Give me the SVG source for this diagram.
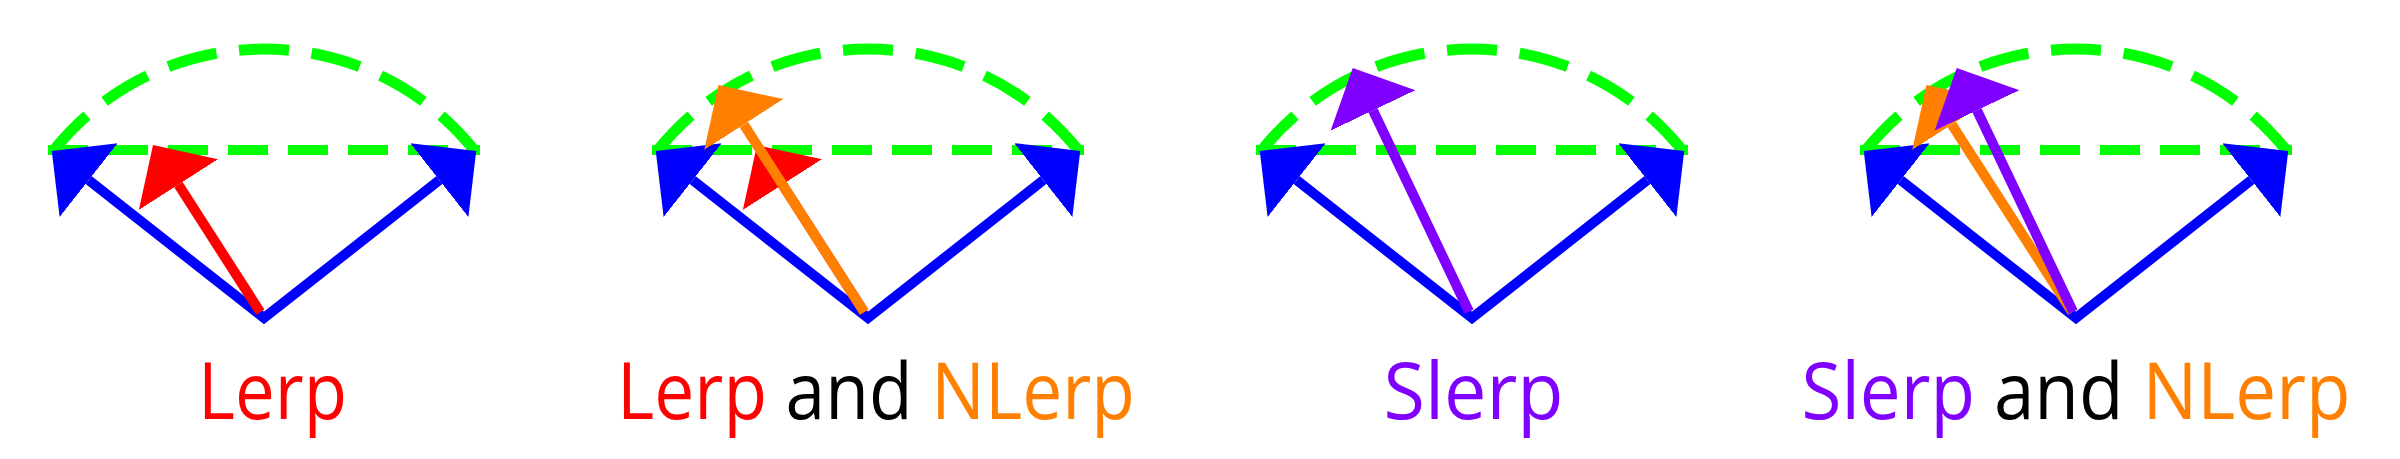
<svg xmlns="http://www.w3.org/2000/svg" xmlns:xlink="http://www.w3.org/1999/xlink" width="2400" height="459" viewBox="0 0 2400 459">
<defs>
<style>
.arc{fill:none;stroke:#00ff00;stroke-width:11;stroke-dasharray:50 22.7}
.chord{fill:none;stroke:#00ff00;stroke-width:10;stroke-dasharray:40 20}
.vec{fill:none;stroke-width:10;stroke-linejoin:miter;stroke-miterlimit:10}
.b{stroke:#0000ff}
.r{stroke:#ff0000}
.o{stroke:#ff8000}
.p{stroke:#8000ff}
.lbl{font-family:"Open Sans","Noto Sans",sans-serif;font-size:78px;text-anchor:middle;fill:#000000}
</style>
<marker id="ahB" viewBox="0 -48 48 96" markerWidth="48" markerHeight="96" refX="0" refY="0" orient="auto-start-reverse" markerUnits="userSpaceOnUse"><path d="M0,-47 L47,0 L0,47 z" fill="#0000ff"/></marker>
<marker id="ahR" viewBox="0 -48 48 96" markerWidth="48" markerHeight="96" refX="0" refY="0" orient="auto" markerUnits="userSpaceOnUse"><path d="M0,-47 L47,0 L0,47 z" fill="#ff0000"/></marker>
<marker id="ahO" viewBox="0 -48 48 96" markerWidth="48" markerHeight="96" refX="0" refY="0" orient="auto" markerUnits="userSpaceOnUse"><path d="M0,-47 L47,0 L0,47 z" fill="#ff8000"/></marker>
<marker id="ahP" viewBox="0 -48 48 96" markerWidth="48" markerHeight="96" refX="0" refY="0" orient="auto" markerUnits="userSpaceOnUse"><path d="M0,-47 L47,0 L0,47 z" fill="#8000ff"/></marker>
<g id="base">
<path class="arc" d="M-211.4,-166.3 A269,269 0 0 1 211.4,-166.3"/>
<path class="chord" d="M-216,-168 L216,-168"/>
<path class="vec b" d="M-175.3,-137.9 L0,0 L175.3,-137.9" marker-start="url(#ahB)" marker-end="url(#ahB)"/>
</g>
</defs>

<g id="panel-lerp" transform="translate(264,318)">
<use href="#base" xlink:href="#base"/>
<g id="connectors-lerp">
<path class="vec r" d="M-3.8,-5.9 L-85.6,-133.4" marker-end="url(#ahR)"/>
</g>
</g>

<g id="panel-lerp-nlerp" transform="translate(868,318)">
<use href="#base" xlink:href="#base"/>
<g id="connectors-lerp-nlerp">
<path class="vec r" d="M-3.8,-5.9 L-85.6,-133.4" marker-end="url(#ahR)"/>
<path class="vec o" d="M-3.8,-5.9 L-124.2,-193.5" marker-end="url(#ahO)"/>
</g>
</g>

<g id="panel-slerp" transform="translate(1472,318)">
<use href="#base" xlink:href="#base"/>
<g id="connectors-slerp">
<path class="vec p" d="M-3.0,-6.3 L-99.0,-207.6" marker-end="url(#ahP)"/>
</g>
</g>

<g id="panel-slerp-nlerp" transform="translate(2076,318)">
<use href="#base" xlink:href="#base"/>
<g id="connectors-slerp-nlerp">
<path class="vec o" d="M-3.8,-5.9 L-124.2,-193.5" marker-end="url(#ahO)"/>
<path class="vec p" d="M-3.0,-6.3 L-99.0,-207.6" marker-end="url(#ahP)"/>
</g>
</g>

<g id="labels">
<text id="label-lerp" class="lbl" x="272.5" y="419" textLength="149" lengthAdjust="spacingAndGlyphs" style="fill:#ff0000">Lerp</text>
<text id="label-lerp-nlerp" class="lbl" x="876" y="419" textLength="518" lengthAdjust="spacingAndGlyphs"><tspan style="fill:#ff0000">Lerp</tspan> and <tspan style="fill:#ff8000">NLerp</tspan></text>
<text id="label-slerp" class="lbl" x="1473.5" y="419" textLength="180" lengthAdjust="spacingAndGlyphs" style="fill:#8000ff">Slerp</text>
<text id="label-slerp-nlerp" class="lbl" x="2076" y="419" textLength="549" lengthAdjust="spacingAndGlyphs"><tspan style="fill:#8000ff">Slerp</tspan> and <tspan style="fill:#ff8000">NLerp</tspan></text>
</g>
</svg>
